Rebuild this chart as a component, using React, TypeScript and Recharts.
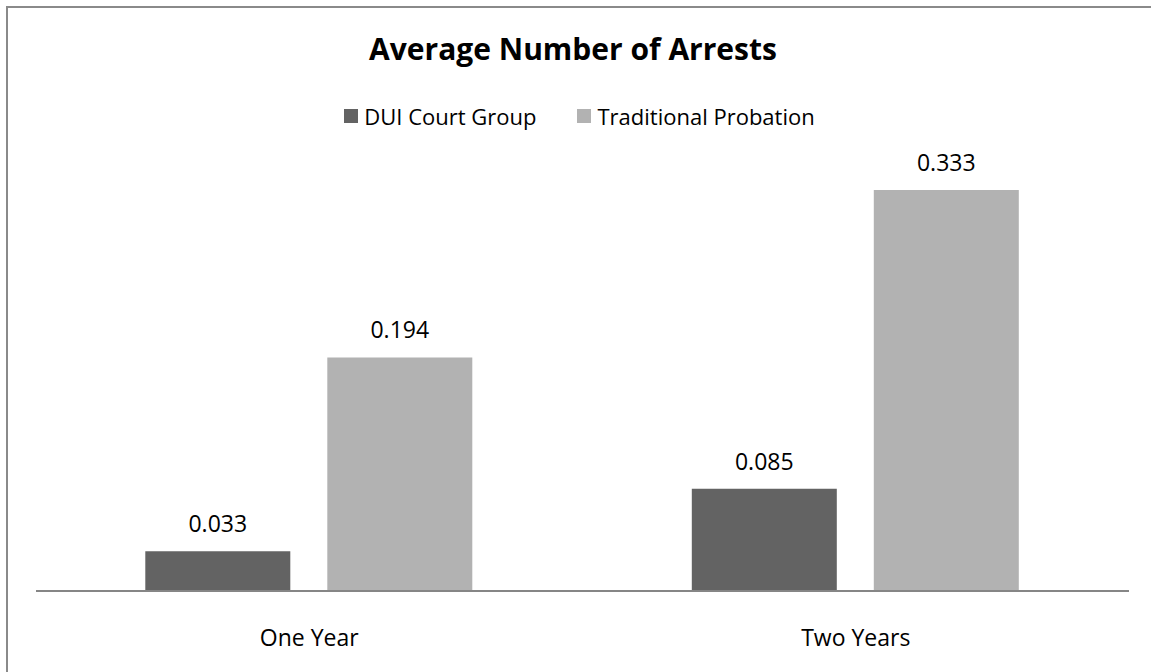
import React from 'react';
import { BarChart, Bar, XAxis, YAxis, Legend, LabelList } from 'recharts';

const categories = ['One Year', 'Two Years'];
const duiCourt = [0.033, 0.085];
const traditional = [0.194, 0.333];
const seriesNames = ['DUI Court Group', 'Traditional Probation'];
const chartTitle = 'Average Number of Arrests';

const data = categories.map((c, i) => ({ period: c, dui: duiCourt[i], trad: traditional[i] }));

const FONT = '"Open Sans", sans-serif';

const renderLegend = (props: any) => {
  const { payload } = props;
  return (
    <div style={{ display: 'flex', justifyContent: 'center', gap: 41, fontFamily: FONT, fontSize: 22, color: '#000', lineHeight: '28px' }}>
      {payload.map((p: any) => (
        <span key={p.value} style={{ display: 'flex', alignItems: 'center' }}>
          <span style={{ display: 'inline-block', width: 14, height: 14, background: p.color, marginRight: 6 }} />
          <span>{p.value}</span>
        </span>
      ))}
    </div>
  );
};

export default function App() {
  return (
    <div style={{ position: 'absolute', left: 0, top: 0, width: 1151, height: 672, overflow: 'hidden', background: '#fff' }}>
      <div style={{ position: 'absolute', left: 6, top: 6, width: 1250, height: 750, border: '2px solid #8a8a8a' }} />
      <div style={{ position: 'absolute', left: 0, top: 34, width: 1146, textAlign: 'center', fontFamily: FONT, fontWeight: 700, fontSize: 30, lineHeight: '30px', color: '#000' }}>
        {chartTitle}
      </div>
      <div style={{ position: 'absolute', left: 0, top: 0 }}>
        <BarChart width={1151} height={672} data={data} margin={{ top: 109.4, right: 22, bottom: 51, left: 36 }} barCategoryGap="20%" barGap={37}>
          <XAxis dataKey="period" height={30} axisLine={{ stroke: '#868686', strokeWidth: 2 }} tickLine={false} tickMargin={33} tick={{ fontFamily: FONT, fontSize: 23, fill: '#000' }} />
          <YAxis hide domain={[0, 0.4]} />
          <Legend verticalAlign="middle" content={renderLegend} wrapperStyle={{ top: 102, left: 4, width: 1151 }} />
          <Bar dataKey="dui" name={seriesNames[0]} fill="#636363" isAnimationActive={false}>
            <LabelList dataKey="dui" position="top" offset={19} formatter={(v: any) => Number(v).toFixed(3)} style={{ fontFamily: FONT, fontSize: 23, fill: '#000' }} />
          </Bar>
          <Bar dataKey="trad" name={seriesNames[1]} fill="#b2b2b2" isAnimationActive={false}>
            <LabelList dataKey="trad" position="top" offset={19} formatter={(v: any) => Number(v).toFixed(3)} style={{ fontFamily: FONT, fontSize: 23, fill: '#000' }} />
          </Bar>
        </BarChart>
      </div>
    </div>
  );
}
